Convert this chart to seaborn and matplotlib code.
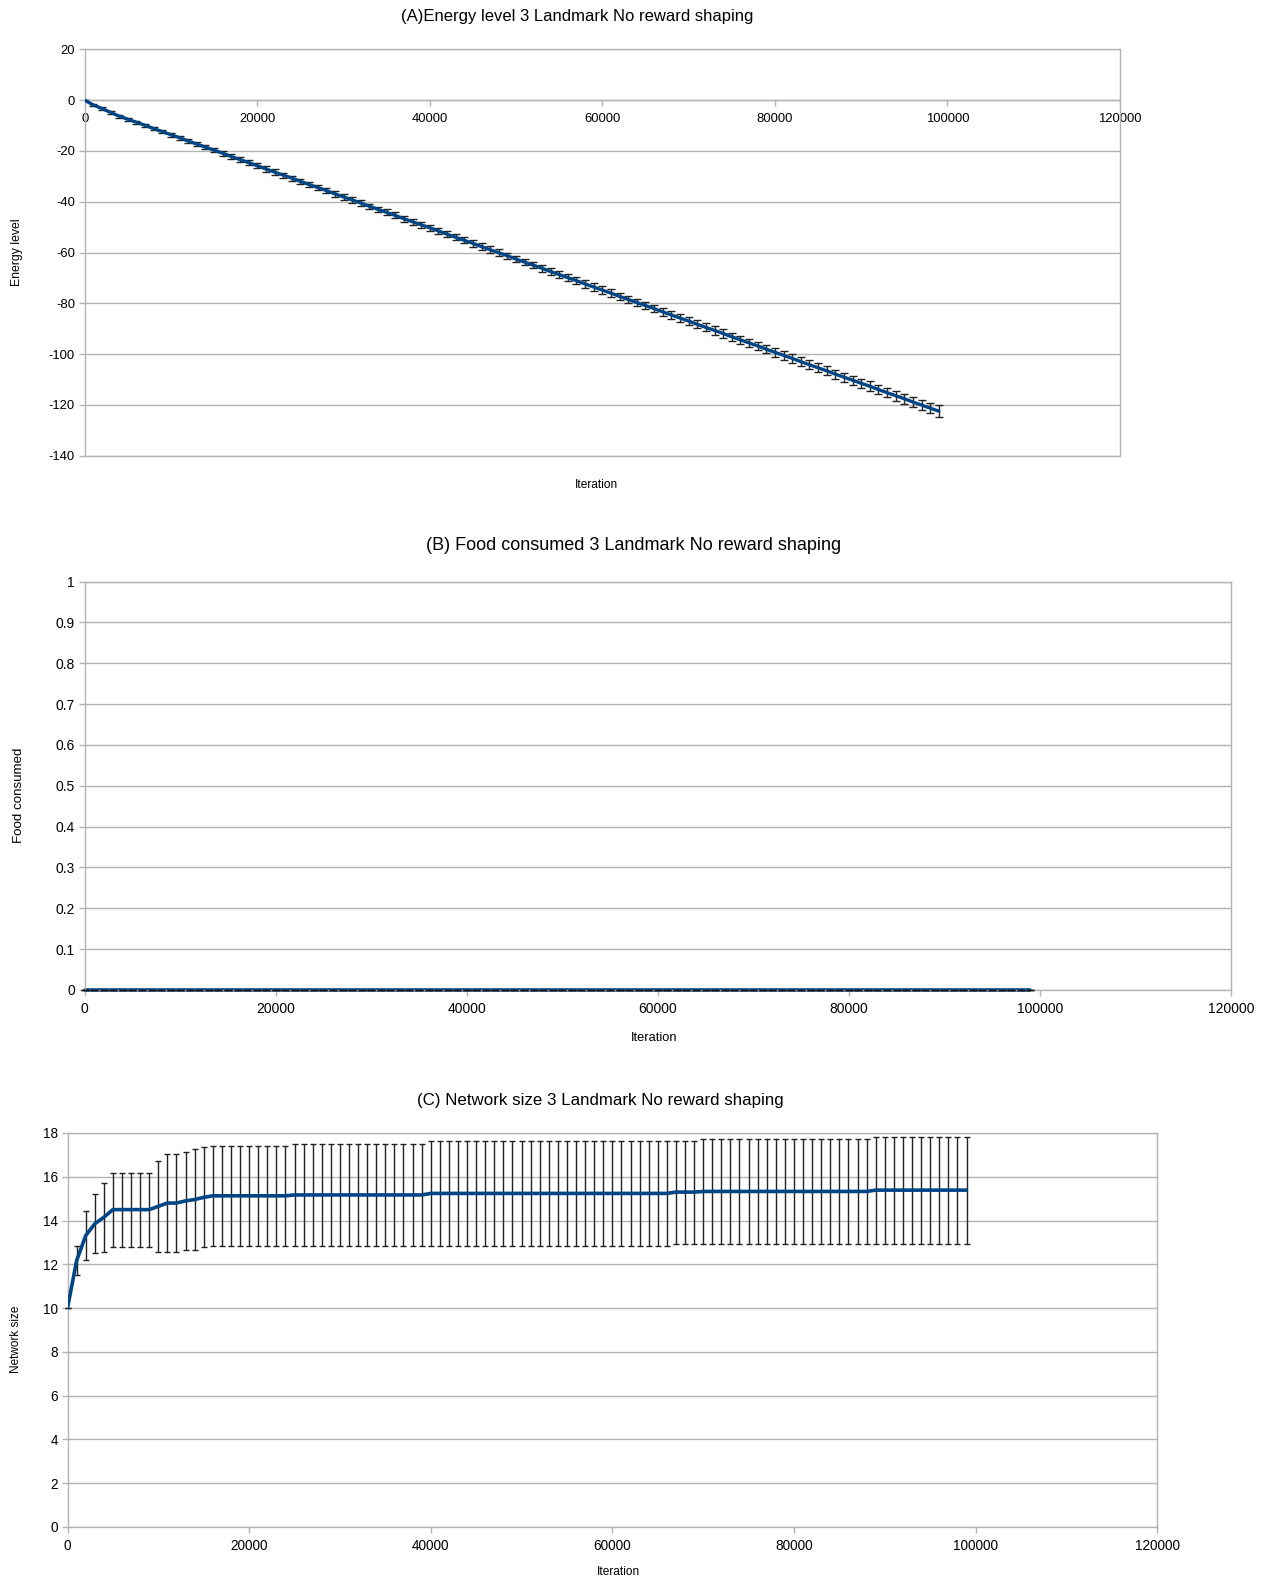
import numpy as np
import pandas as pd
import seaborn as sns
import matplotlib.pyplot as plt
from matplotlib.ticker import FuncFormatter, MultipleLocator

# iterations sampled every 1000 steps (0 .. 99000)
iterations = np.arange(0, 100000, 1000)

# (A) energy level, mean and spread
energy_mean = [
    0.0, -1.9, -3.3, -4.8, -6.3, -7.5, -8.7, -9.9, -11.2, -12.4,
    -13.6, -14.8, -16.1, -17.3, -18.5, -19.7, -20.9, -22.2, -23.4, -24.6,
    -25.8, -27.1, -28.3, -29.5, -30.7, -32.0, -33.2, -34.4, -35.6, -36.9,
    -38.1, -39.3, -40.5, -41.8, -43.0, -44.2, -45.4, -46.7, -47.9, -49.1,
    -50.3, -51.5, -52.8, -54.0, -55.2, -56.4, -57.7, -58.9, -60.1, -61.3,
    -62.6, -63.8, -65.0, -66.2, -67.5, -68.7, -69.9, -71.1, -72.4, -73.6,
    -74.8, -76.0, -77.3, -78.5, -79.7, -80.9, -82.1, -83.4, -84.6, -85.8,
    -87.0, -88.3, -89.5, -90.7, -91.9, -93.2, -94.4, -95.6, -96.8, -98.1,
    -99.3, -100.5, -101.7, -103.0, -104.2, -105.4, -106.6, -107.9, -109.1, -110.3,
    -111.5, -112.7, -114.0, -115.2, -116.4, -117.6, -118.9, -120.1, -121.3, -122.5,
]
energy_sd = [
    0.0, 0.4, 0.5, 0.5, 0.6, 0.6, 0.6, 0.7, 0.7, 0.7,
    0.8, 0.8, 0.8, 0.8, 0.8, 0.9, 0.9, 0.9, 0.9, 0.9,
    1.0, 1.0, 1.0, 1.0, 1.0, 1.1, 1.1, 1.1, 1.1, 1.1,
    1.1, 1.1, 1.1, 1.1, 1.1, 1.2, 1.2, 1.2, 1.2, 1.2,
    1.2, 1.2, 1.2, 1.2, 1.2, 1.3, 1.3, 1.3, 1.3, 1.3,
    1.3, 1.3, 1.3, 1.3, 1.3, 1.4, 1.4, 1.4, 1.4, 1.4,
    1.5, 1.5, 1.5, 1.5, 1.5, 1.5, 1.5, 1.5, 1.5, 1.5,
    1.6, 1.6, 1.6, 1.6, 1.6, 1.6, 1.6, 1.6, 1.6, 1.6,
    1.7, 1.7, 1.7, 1.7, 1.7, 1.8, 1.8, 1.8, 1.8, 1.8,
    1.8, 1.9, 1.9, 1.9, 2.0, 2.0, 2.0, 2.1, 2.1, 2.3,
]

# (B) food consumed - zero throughout
food_mean = [0.0] * 100
food_sd = [0.0] * 100

# (C) network size
net_mean = ([10.0, 12.16, 13.31, 13.85, 14.15, 14.5, 14.5, 14.5, 14.5, 14.5,
             14.65, 14.8, 14.8, 14.9, 14.96, 15.06]
            + [15.13] * 9 + [15.17] * 15 + [15.24] * 27 + [15.30] * 3
            + [15.33] * 19 + [15.39] * 11)
net_sd = ([0.0, 0.66, 1.11, 1.35, 1.57, 1.69, 1.69, 1.69, 1.69, 1.69,
           2.09, 2.25, 2.25, 2.25, 2.29, 2.28]
          + [2.27] * 9 + [2.31] * 15 + [2.38] * 27 + [2.35] * 3
          + [2.38] * 19 + [2.44] * 11)

W, H = 1271, 1580
LINE = '#004586'
GRID = '#b3b3b3'

sns.set_theme(style='white')
plt.rcParams['font.family'] = ['Liberation Sans', 'DejaVu Sans']
plt.rcParams['text.color'] = 'black'

fig = plt.figure(figsize=(W / 100, H / 100), dpi=100)


def make_axes(left, right, top, bottom):
    return fig.add_axes([left / W, 1 - bottom / H, (right - left) / W, (bottom - top) / H])


def style_axes(ax, fs):
    for s in ax.spines.values():
        s.set_color(GRID)
        s.set_linewidth(1)
    ax.grid(axis='y', color=GRID, lw=1)
    ax.grid(axis='x', visible=False)
    ax.tick_params(axis='both', which='major', bottom=True, left=True, length=4, width=1,
                   color=GRID, labelsize=fs, pad=3, direction='out', labelcolor='black')
    fmt = FuncFormatter(lambda v, p: f'{v:g}')
    ax.xaxis.set_major_formatter(fmt)
    ax.yaxis.set_major_formatter(fmt)
    ax.set_xlabel('')
    ax.set_ylabel('')
    ax.set_xlim(0, 120000)
    ax.xaxis.set_major_locator(MultipleLocator(20000))


def fig_text(x, y, s, fs, rot=0):
    fig.text(x / W, 1 - y / H, s, fontsize=fs, ha='center', va='center',
             rotation=rot, color='black')


# ---- (A) energy level ----
df_a = pd.DataFrame({'Iteration': iterations, 'Energy level': energy_mean})
ax = make_axes(84.7, 1120, 49.4, 455.6)
ax.errorbar(iterations, energy_mean, yerr=energy_sd, fmt='none', ecolor='#222222',
            elinewidth=1, capsize=2.8, capthick=1, zorder=2)
sns.lineplot(data=df_a, x='Iteration', y='Energy level', color=LINE, lw=2.4, ax=ax, zorder=3)
style_axes(ax, 9.4)
ax.set_ylim(-140, 20)
ax.yaxis.set_major_locator(MultipleLocator(20))
ax.spines['bottom'].set_position(('data', 0))
ax.axhline(-140, color=GRID, lw=1, clip_on=False, zorder=1)
ax.tick_params(axis='x', pad=5)
fig_text(577, 17, '(A)Energy level 3 Landmark No reward shaping', 12)
fig_text(17, 252, 'Energy level', 8.8, 90)
fig_text(596, 485, 'Iteration', 8.6)

# ---- (B) food consumed ----
df_b = pd.DataFrame({'Iteration': iterations, 'Food consumed': food_mean})
ax = make_axes(84.7, 1230.8, 581.6, 989.9)
sns.lineplot(data=df_b, x='Iteration', y='Food consumed', color=LINE, lw=2.6, ax=ax, zorder=2,
             clip_on=False)
ax.errorbar(iterations, food_mean, yerr=food_sd, fmt='none', ecolor='#111111',
            elinewidth=1, capsize=2.8, capthick=1, zorder=3, clip_on=False)
style_axes(ax, 10)
ax.set_ylim(0, 1)
ax.yaxis.set_major_locator(MultipleLocator(0.1))
ax.tick_params(axis='x', pad=5)
fig_text(634, 546, '(B) Food consumed 3 Landmark No reward shaping', 13)
fig_text(19, 795, 'Food consumed', 9.6, 90)
fig_text(654, 1038, 'Iteration', 9.3)

# ---- (C) network size ----
df_c = pd.DataFrame({'Iteration': iterations, 'Network size': net_mean})
ax = make_axes(67.5, 1157.2, 1133, 1527)
ax.errorbar(iterations, net_mean, yerr=net_sd, fmt='none', ecolor='#222222',
            elinewidth=1, capsize=2.5, capthick=1, zorder=2, clip_on=False)
sns.lineplot(data=df_c, x='Iteration', y='Network size', color=LINE, lw=2.6, ax=ax, zorder=3)
style_axes(ax, 9.8)
ax.set_ylim(0, 18)
ax.yaxis.set_major_locator(MultipleLocator(2))
ax.tick_params(axis='x', pad=5)
fig_text(600, 1100, '(C) Network size 3 Landmark No reward shaping', 12.2)
fig_text(16, 1339, 'Network size', 8.5, 90)
fig_text(618, 1572, 'Iteration', 8.6)

fig.savefig('out.png', dpi=100)
